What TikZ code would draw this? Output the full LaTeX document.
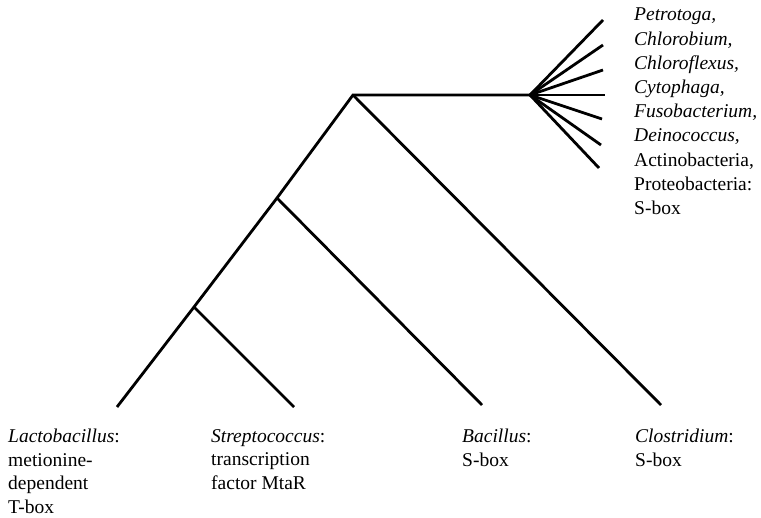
\documentclass[tikz,border=0pt]{standalone}
\usepackage{fontspec}
\setmainfont{Liberation Serif}
\begin{document}
\begin{tikzpicture}[x=1pt,y=-1pt,
  branch/.style={line width=2.8pt, line cap=butt, line join=miter},
  lbl/.style={anchor=north west, inner sep=0pt, align=left,
    font=\fontsize{19.5}{24.2}\selectfont},
  blbl/.style={lbl, font=\fontsize{19.5}{23.6}\selectfont}]
\useasboundingbox[fill=white] (0,0) rectangle (761,518);
% internal nodes
\coordinate (root) at (353,95);
\coordinate (n2) at (277,198);
\coordinate (n3) at (194,307);
\coordinate (fan) at (530,95);
% leaves
\coordinate (lacto) at (117,407);
\coordinate (strep) at (294,407);
\coordinate (bac) at (482,405);
\coordinate (clos) at (661,405);
% fan tips
\coordinate (f1) at (603,20);
\coordinate (f2) at (603,45);
\coordinate (f3) at (603,70);
\coordinate (f4) at (605,95);
\coordinate (f5) at (602,119);
\coordinate (f6) at (601,145);
\coordinate (f7) at (599,168);
% tree
\draw[branch] (lacto) -- (n3) -- (n2) -- (root) -- (fan);
\draw[branch] (root) -- (clos);
\draw[branch] (n2) -- (bac);
\draw[branch] (n3) -- (strep);
\foreach \t in {f1,f2,f3,f4,f5,f6,f7}
  \draw[branch] (fan) -- (\t);
% labels
\node[lbl] (tlab) at (634,8) {\textit{Petrotoga,}\\ \textit{Chlorobium,}\\ \textit{Chloroflexus,}\\ \textit{Cytophaga,}\\ \textit{Fusobacterium,}\\ \textit{Deinococcus,}\\ Actinobacteria,\\ Proteobacteria:\\ S-box};
\node[blbl] (llacto) at (8,429) {\textit{Lactobacillus}:\\ metionine-\\ dependent\\ T-box};
\node[blbl] (lstrep) at (211,429) {\textit{Streptococcus}:\\ transcription\\ factor MtaR};
\node[blbl] (lbac) at (462,429) {\textit{Bacillus}:\\ S-box};
\node[blbl] (lclos) at (635,429) {\textit{Clostridium}:\\ S-box};
\end{tikzpicture}
\end{document}
